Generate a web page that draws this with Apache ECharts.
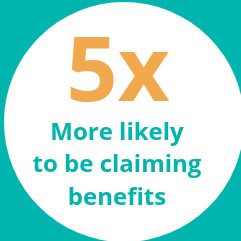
<!DOCTYPE html>
<html lang="en">
<head>
  <meta charset="UTF-8">
  <title>5x</title>
  <style>
    html, body { margin: 0; padding: 0; }
    #chart { width: 241px; height: 241px; }
  </style>
  <script src="https://cdn.jsdelivr.net/npm/echarts@6/dist/echarts.min.js"></script>
</head>
<body>
  <div id="chart"></div>
<script>
  // figures shown
  var headline = '5x';
  var caption = ['More likely', 'to be claiming', 'benefits'];

  var teal = '#00B5AD';
  var orange = '#F2A94D';
  var font = '"Open Sans", sans-serif';

  var myChart = echarts.init(document.getElementById('chart'));

  var elements = [
    { type: 'circle', shape: { cx: 124, cy: 122, r: 120 }, style: { fill: '#fff' } },
    {
      type: 'text', x: 118, y: 120,
      style: {
        text: headline, fill: orange, font: 'bold 90px ' + font,
        textAlign: 'center', textVerticalAlign: 'bottom'
      }
    }
  ];
  caption.forEach(function (line, i) {
    elements.push({
      type: 'text', x: 117, y: 121 + i * 32.5,
      style: {
        text: line, fill: teal, font: 'bold 24px ' + font,
        textAlign: 'center', textVerticalAlign: 'top'
      }
    });
  });

  var option = {
    backgroundColor: teal,
    animation: false,
    graphic: elements
  };
  myChart.setOption(option);
</script>
</body>
</html>
